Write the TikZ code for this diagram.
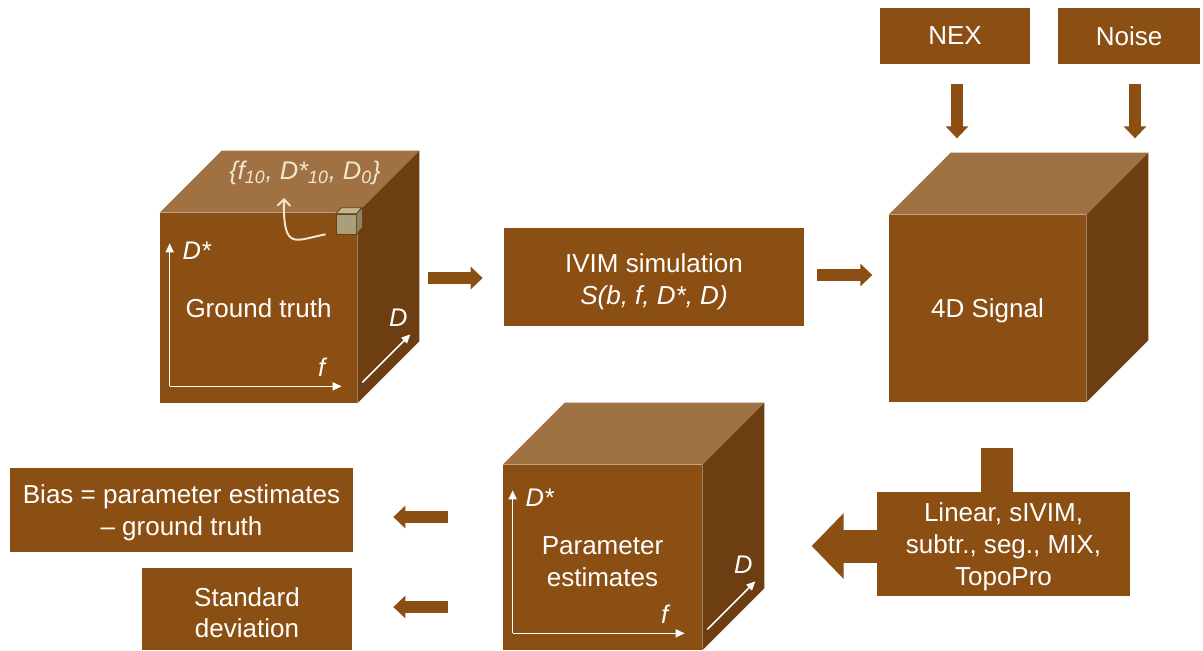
\documentclass[tikz,border=0pt]{standalone}
\usepackage{fontspec}
\setmainfont{Liberation Sans}
\usepackage{tikz}
\usetikzlibrary{arrows.meta}

\definecolor{brn}{RGB}{139,79,20}
\definecolor{brntop}{RGB}{160,113,66}
\definecolor{brnside}{RGB}{108,62,18}
\definecolor{cream}{RGB}{240,232,208}
\definecolor{voxel}{RGB}{168,160,122}
\definecolor{voxeltop}{RGB}{192,183,145}
\definecolor{voxelside}{RGB}{140,132,96}

\begin{document}
\begin{tikzpicture}[
  x=0.02cm, y=-0.02cm,
  box/.style={fill=brn,text=white,align=center,inner sep=0pt,text depth=0pt,font=\fontsize{14.8}{18}\selectfont},
  face/.style={box,minimum width=3.94cm},
  fat/.style={draw=brn,line width=2.4mm,-{Triangle[width=4.4mm,length=2.4mm]}},
  axis/.style={draw=white,line width=0.9pt,-{Triangle[length=1.8mm,width=1.6mm]}},
  lab/.style={text=white,inner sep=0pt,font=\fontsize{14.5}{18}\selectfont\itshape},
  curl/.style={draw=cream,line width=1.1pt,-{Straight Barb[length=1.3mm,width=2.6mm]}}
]
\useasboundingbox (0,0) rectangle (1203,650);

% front faces of the three data cubes
\node[face,minimum height=3.8cm] (gt) at (258.5,308) {Ground truth};
\node[face,minimum height=3.74cm] (sig) at (987.5,308.5) {4D Signal};
\node[face,minimum width=3.98cm,minimum height=3.7cm,text height=32.6pt] (est) at (602.5,557.5) {Parameter\\estimates};

% top and side faces
\foreach \c in {gt,sig,est}{
  \fill[brntop] (\c.north west) -- ++(62,-62) -- ([shift={(62,-62)}]\c.north east) -- (\c.north east) -- cycle;
  \fill[brnside] (\c.north east) -- ++(62,-62) -- ([shift={(62,-62)}]\c.south east) -- (\c.south east) -- cycle;
}

% f / D* / D axes
\foreach \c in {gt,est}{
  \coordinate (\c-o) at ([shift={(10,-17)}]\c.south west);
  \draw[axis] (\c-o) -- ++(0,-143);
  \draw[axis] (\c-o) -- ++(172,0);
  \draw[axis] ([shift={(5,-21)}]\c.south east) -- ++(48,-48);
  \node[lab] (\c-dstar) at ([shift={(27,-136)}]\c-o) {D*};
  \node[lab] (\c-f) at ([shift={(152,-19)}]\c-o) {f};
  \node[lab] (\c-d) at ([shift={(41,-86)}]\c.south east) {D};
}

% single voxel and its parameter set
\node[draw=brnside,fill=voxel,minimum size=4mm,inner sep=0pt,line width=0.4pt] (vox) at (346,224) {};
\filldraw[fill=voxeltop,draw=brnside,line width=0.4pt] (vox.north west) -- ++(6,-6) -- ++(20,0) -- (vox.north east) -- cycle;
\filldraw[fill=voxelside,draw=brnside,line width=0.4pt] (vox.north east) -- ++(6,-6) -- ++(0,20) -- (vox.south east) -- cycle;
\node[lab,text=cream] (pset) at (305,173) {\{f\textsubscript{10}, D*\textsubscript{10}, D\textsubscript{0}\}};
\coordinate (pick) at (284,198);
\draw[curl] ([xshift=-2mm]vox.south west) .. controls (295,240) and (283,252) .. (pick);

% processing boxes
\node[box,minimum width=6cm,minimum height=1.96cm,text height=31pt] (ivim) at (654,277) {IVIM simulation\\\textit{S(b, f, D*, D)}};
\node[box,minimum width=3cm,minimum height=1.12cm] (nex) at (955,36) {NEX};
\node[box,minimum width=2.84cm,minimum height=1.12cm] (noise) at (1129,36) {Noise};
\node[box,minimum width=5.06cm,minimum height=2.08cm] (fit) at (1003.5,544) {Linear, sIVIM,\\subtr., seg., MIX,\\TopoPro};
\node[box,minimum width=6.86cm,minimum height=1.68cm] (bias) at (181.5,510) {Bias = parameter estimates\\– ground truth};
\node[box,minimum width=4.2cm,minimum height=1.64cm,text height=32.8pt] (sd) at (247,609) {Standard\\deviation};

% fitting block: stub on top and wide arrow to the left
\fill[brn] ([xshift=-4.5mm]fit.north) rectangle ++(32,-44);
\draw[fat,line width=6.6mm,-{Triangle[width=12.8mm,length=6.4mm]}] ([yshift=-0.4mm]fit.west) -- ++(-65,0);

% flow arrows
\draw[fat] ([shift={(-76,1)}]ivim.west) -- ++(55,0);
\draw[fat] ([shift={(13,-2)}]ivim.east) -- ++(55,0);
\draw[fat] ([shift={(2,20)}]nex.south) -- ++(0,54);
\draw[fat] ([shift={(6,20)}]noise.south) -- ++(0,54);
\draw[fat] ([shift={(95,7)}]bias.east) -- ++(-55,0);
\draw[fat] ([shift={(96,-2)}]sd.east) -- ++(-55,0);
\end{tikzpicture}
\end{document}
